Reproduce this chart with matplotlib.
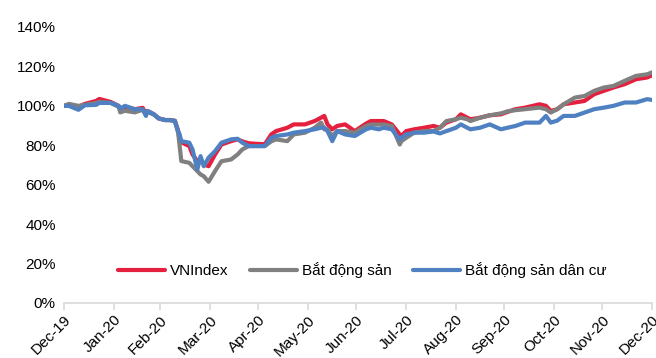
import pandas as pd
import matplotlib
matplotlib.use("Agg")
from matplotlib import pyplot as plt
import matplotlib.dates as mdates

plt.rcParams['font.family'] = ['Liberation Sans Narrow', 'Liberation Sans', 'DejaVu Sans']

# values (index, 1.0 = 100%)
dates = [
    "2019-12-31", "2020-01-03", "2020-01-09", "2020-01-13", "2020-01-20", "2020-01-22",
    "2020-01-29", "2020-02-03", "2020-02-04", "2020-02-07", "2020-02-13", "2020-02-18",
    "2020-02-20", "2020-02-21", "2020-02-25", "2020-02-28", "2020-03-03", "2020-03-06",
    "2020-03-09", "2020-03-11", "2020-03-12", "2020-03-13", "2020-03-18", "2020-03-20",
    "2020-03-23", "2020-03-25", "2020-03-27", "2020-03-30", "2020-04-03", "2020-04-07",
    "2020-04-13", "2020-04-17", "2020-04-20", "2020-04-24", "2020-05-04", "2020-05-08",
    "2020-05-11", "2020-05-18", "2020-05-22", "2020-05-29", "2020-06-04", "2020-06-08",
    "2020-06-10", "2020-06-12", "2020-06-15", "2020-06-18", "2020-06-23", "2020-06-29",
    "2020-07-06", "2020-07-09", "2020-07-14", "2020-07-17", "2020-07-22", "2020-07-27",
    "2020-07-28", "2020-07-31", "2020-08-05", "2020-08-11", "2020-08-17", "2020-08-21",
    "2020-08-25", "2020-08-31", "2020-09-03", "2020-09-07", "2020-09-09", "2020-09-15",
    "2020-09-21", "2020-09-28", "2020-10-02", "2020-10-07", "2020-10-13", "2020-10-22",
    "2020-10-26", "2020-10-29", "2020-11-02", "2020-11-06", "2020-11-13", "2020-11-19",
    "2020-11-25", "2020-12-01", "2020-12-07", "2020-12-14", "2020-12-21", "2020-12-28",
    "2020-12-31",
]
vnindex = [
    100, 100.5, 99.5, 101, 102.5, 103.5, 102, 100, 98.5, 99.5, 98.3, 99,
    96, 97.4, 95.7, 93.6, 92.8, 92.8, 92.5, 87.5, 83, 81.5, 79.6, 75.3,
    72, 72.8, 70.3, 69.4, 75.3, 80.4, 82.1, 83, 82, 81, 80.5, 85.5,
    87.2, 88.9, 90.6, 90.6, 92.3, 94, 94.9, 90.6, 88.1, 89.8, 90.6, 87.2,
    91, 92.3, 92.3, 92.3, 90.6, 85.5, 84.7, 87.2, 88.1, 88.9, 89.8, 88.9,
    91.5, 93.2, 95.7, 94, 93.2, 94, 95.2, 95.7, 96.9, 98.3, 99.1, 100.8,
    100, 97.4, 98.3, 100.8, 101.7, 102.5, 105.9, 107.6, 109.3, 111, 113.5, 114.4,
    115.5,
]
bat_dong_san = [
    100, 101, 100, 100.5, 101.5, 102, 101.5, 99.5, 96.7, 97.5, 96.7, 98,
    95.5, 97, 95.5, 93.6, 92.8, 92.8, 92.3, 86.5, 79.6, 72, 71.1, 69.4,
    66.9, 65.2, 64.3, 61.5, 66.9, 71.9, 72.8, 75.3, 77.9, 79.6, 79.6, 82,
    83, 82.1, 85.5, 86.4, 88.9, 91.5, 88.1, 88.1, 84.7, 87.2, 87.2, 86.4,
    89.8, 90.5, 90.5, 90.5, 89.8, 80.4, 82.1, 83.8, 86.4, 87.2, 87.2, 88.9,
    92.3, 93.2, 94, 93.2, 92.3, 94, 95.2, 96.2, 97.2, 97.8, 98.3, 99.1,
    98.3, 96.6, 98.3, 100.8, 104.2, 105, 107.6, 109.3, 110.1, 112.7, 115.2, 116,
    117,
]
bds_dan_cu = [
    100, 100, 98, 100.3, 100.5, 101.5, 101.5, 100, 98.7, 100, 98.3, 98.3,
    94.9, 97.4, 95.7, 93.6, 92.8, 92.8, 92.3, 87.2, 85.5, 82.1, 81.3, 77.9,
    67.7, 74.5, 69.4, 73.7, 77, 81.3, 83, 83.3, 81.3, 79.6, 79.6, 83.8,
    84.7, 85.5, 86.4, 87.2, 88.1, 88.9, 88.9, 87.2, 82.1, 87.2, 85.5, 84.7,
    88.1, 88.9, 88.1, 88.9, 88.1, 83, 83.8, 85.5, 86.4, 86.4, 87, 86,
    87.2, 88.9, 90.6, 88.9, 88.1, 88.9, 90.6, 88.1, 88.9, 89.8, 91.5, 91.5,
    94.9, 91.5, 92.5, 94.9, 94.9, 96.6, 98.3, 99.1, 100, 101.7, 101.7, 103.4,
    103,
]
labels = ["VNIndex", "Bắt động sản", "Bắt động sản dân cư"]
colors = ["#E5203E", "#808080", "#4F81C2"]

x = pd.to_datetime(dates)
series = [vnindex, bat_dong_san, bds_dan_cu]

fig = plt.figure(figsize=(6.56, 3.58), dpi=100)
ax = fig.add_axes([64/656, 1 - 303/358, 588/656, 276/358])

for vals, lab, col in zip(series, labels, colors):
    ax.plot(x, [v / 100 for v in vals], color=col, lw=3.0, label=lab,
            solid_capstyle='round', solid_joinstyle='round')

ax.set_ylim(0, 1.4)
ax.set_yticks([i * 0.2 for i in range(8)])
ax.set_yticklabels([f"{i*20}%" for i in range(8)], fontsize=11)
ax.set_xlim(x[0], x[-1])
ticks = pd.date_range("2019-12-31", "2020-12-31", freq="ME")
ax.set_xticks(ticks)
ax.xaxis.set_major_formatter(mdates.DateFormatter("%b-%y"))
plt.setp(ax.get_xticklabels(), rotation=45, ha='right', rotation_mode='anchor', fontsize=11)

for s in ['top', 'right', 'left']:
    ax.spines[s].set_visible(False)
ax.spines['bottom'].set_color('#d9d9d9')
ax.spines['bottom'].set_linewidth(1.2)
ax.tick_params(axis='y', length=0, pad=6)
ax.tick_params(axis='x', length=5, width=1.2, color='#d9d9d9', pad=2)

ax.legend(loc='center', bbox_to_anchor=(0.507, 0.12), ncol=3, frameon=False,
          fontsize=11, handlelength=3.1, handletextpad=0.3, columnspacing=1.4)

fig.savefig("out.png", dpi=100)
